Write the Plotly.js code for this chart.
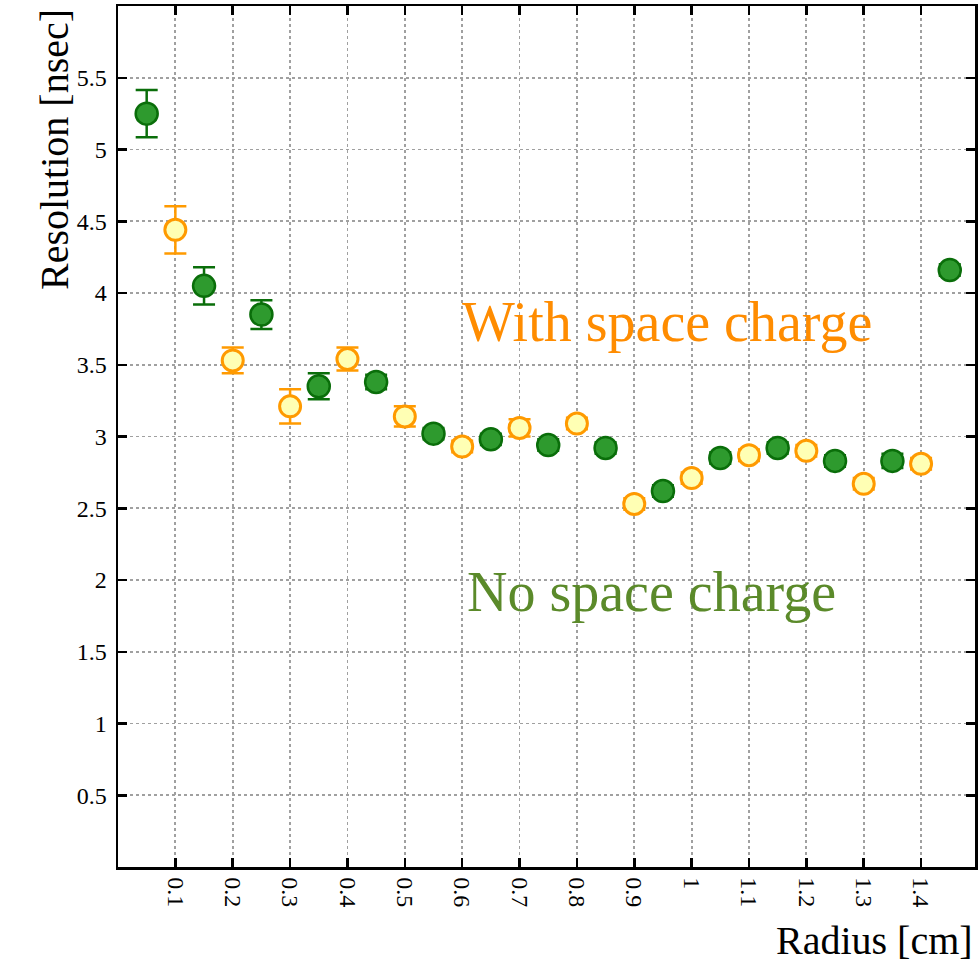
<!DOCTYPE html>
<html>
<head>
<meta charset="utf-8">
<script src="https://cdn.plot.ly/plotly-3.0.1.min.js"></script>
<style>
  html, body { margin: 0; padding: 0; background: #ffffff; }
  #chart { width: 978px; height: 965px; }
</style>
</head>
<body>
<div id="chart"></div>
<script>
// Data
const radiusNoSC = [0.05, 0.15, 0.25, 0.35, 0.45, 0.55, 0.65, 0.75, 0.85, 0.95, 1.05, 1.15, 1.25, 1.35, 1.45];
const resNoSC    = [5.25, 4.05, 3.85, 3.35, 3.38, 3.02, 2.98, 2.94, 2.92, 2.62, 2.85, 2.92, 2.83, 2.83, 4.16];
const errNoSC    = [0.165, 0.13, 0.10, 0.09, 0.05, 0.04, 0.04, 0.04, 0.04, 0.04, 0.04, 0.04, 0.04, 0.05, 0.04];

const radiusSC = [0.1, 0.2, 0.3, 0.4, 0.5, 0.6, 0.7, 0.8, 0.9, 1.0, 1.1, 1.2, 1.3, 1.4];
const resSC    = [4.44, 3.53, 3.21, 3.54, 3.14, 2.93, 3.06, 3.09, 2.53, 2.71, 2.87, 2.90, 2.67, 2.81];
const errSC    = [0.165, 0.09, 0.12, 0.08, 0.07, 0.04, 0.06, 0.04, 0.04, 0.04, 0.04, 0.04, 0.04, 0.04];

const xTickVals = [0.1, 0.2, 0.3, 0.4, 0.5, 0.6, 0.7, 0.8, 0.9, 1.0, 1.1, 1.2, 1.3, 1.4];
const xTickText = ["0.1", "0.2", "0.3", "0.4", "0.5", "0.6", "0.7", "0.8", "0.9", "1", "1.1", "1.2", "1.3", "1.4"];
const yTickVals = [0.5, 1, 1.5, 2, 2.5, 3, 3.5, 4, 4.5, 5, 5.5];
const yTickText = ["0.5", "1", "1.5", "2", "2.5", "3", "3.5", "4", "4.5", "5", "5.5"];

const serif = "'Liberation Serif', 'DejaVu Serif', serif";
const tickFontSize = 24;

const traces = [
  {
    type: 'scatter', mode: 'markers', name: 'No space charge',
    x: radiusNoSC, y: resNoSC,
    error_y: { type: 'data', array: errNoSC, visible: true, color: '#0a6e0a', thickness: 2.5, width: 11 },
    marker: { size: 22, color: '#2e9a2e', line: { color: '#0a6e0a', width: 2.5 } },
    hoverinfo: 'x+y'
  },
  {
    type: 'scatter', mode: 'markers', name: 'With space charge',
    x: radiusSC, y: resSC,
    error_y: { type: 'data', array: errSC, visible: true, color: '#ff9a00', thickness: 2.5, width: 11 },
    marker: { size: 21, color: '#ffffb4', line: { color: '#ff9a00', width: 3 } },
    hoverinfo: 'x+y'
  }
];

const layout = {
  width: 978, height: 965,
  margin: { l: 118, r: 3, t: 6, b: 98, autoexpand: false },
  paper_bgcolor: '#ffffff', plot_bgcolor: '#ffffff',
  showlegend: false,
  font: { family: serif, color: '#000000', size: tickFontSize },
  xaxis: {
    range: [0, 1.494],
    tickmode: 'array', tickvals: xTickVals, ticktext: xTickText,
    tickangle: 90,
    ticks: 'inside', ticklen: 9, tickwidth: 2.5, tickcolor: '#000000',
    showline: true, linecolor: '#000000', linewidth: 2.5, mirror: 'ticks',
    showgrid: true, gridcolor: '#a0a0a0', gridwidth: 1.8, griddash: 'dot',
    zeroline: false,
    tickfont: { family: serif, size: tickFontSize, color: '#000000' },
    automargin: false,
    ticklabelstandoff: 3
  },
  yaxis: {
    range: [0, 6.0],
    tickmode: 'array', tickvals: yTickVals, ticktext: yTickText,
    ticks: 'inside', ticklen: 9, tickwidth: 2.5, tickcolor: '#000000',
    showline: true, linecolor: '#000000', linewidth: 2.5, mirror: 'ticks',
    showgrid: true, gridcolor: '#a0a0a0', gridwidth: 1.8, griddash: 'dot',
    zeroline: false,
    tickfont: { family: serif, size: tickFontSize, color: '#000000' },
    automargin: false,
    ticklabelstandoff: 4
  },
  annotations: [
    {
      text: 'With space charge', xref: 'paper', yref: 'paper',
      x: (667 - 118) / 857, y: (867 - 322) / 861, xanchor: 'center', yanchor: 'middle',
      showarrow: false, font: { family: serif, size: 56, color: '#ff8c00' }
    },
    {
      text: 'No space charge', xref: 'paper', yref: 'paper',
      x: (651 - 118) / 857, y: (867 - 592) / 861, xanchor: 'center', yanchor: 'middle',
      showarrow: false, font: { family: serif, size: 56, color: '#5b8a2a' }
    },
    {
      text: 'Resolution [nsec]', xref: 'paper', yref: 'paper',
      x: (55 - 118) / 857, y: (867 - 150) / 861, xanchor: 'center', yanchor: 'middle',
      textangle: -90, showarrow: false, font: { family: serif, size: 40, color: '#000000' }
    },
    {
      text: 'Radius [cm]', xref: 'paper', yref: 'paper',
      x: 1.0, y: (867 - 940) / 861, xanchor: 'right', yanchor: 'middle',
      showarrow: false, font: { family: serif, size: 40, color: '#000000' }
    }
  ]
};

Plotly.newPlot('chart', traces, layout, { displayModeBar: false, staticPlot: true });
</script>
</body>
</html>
